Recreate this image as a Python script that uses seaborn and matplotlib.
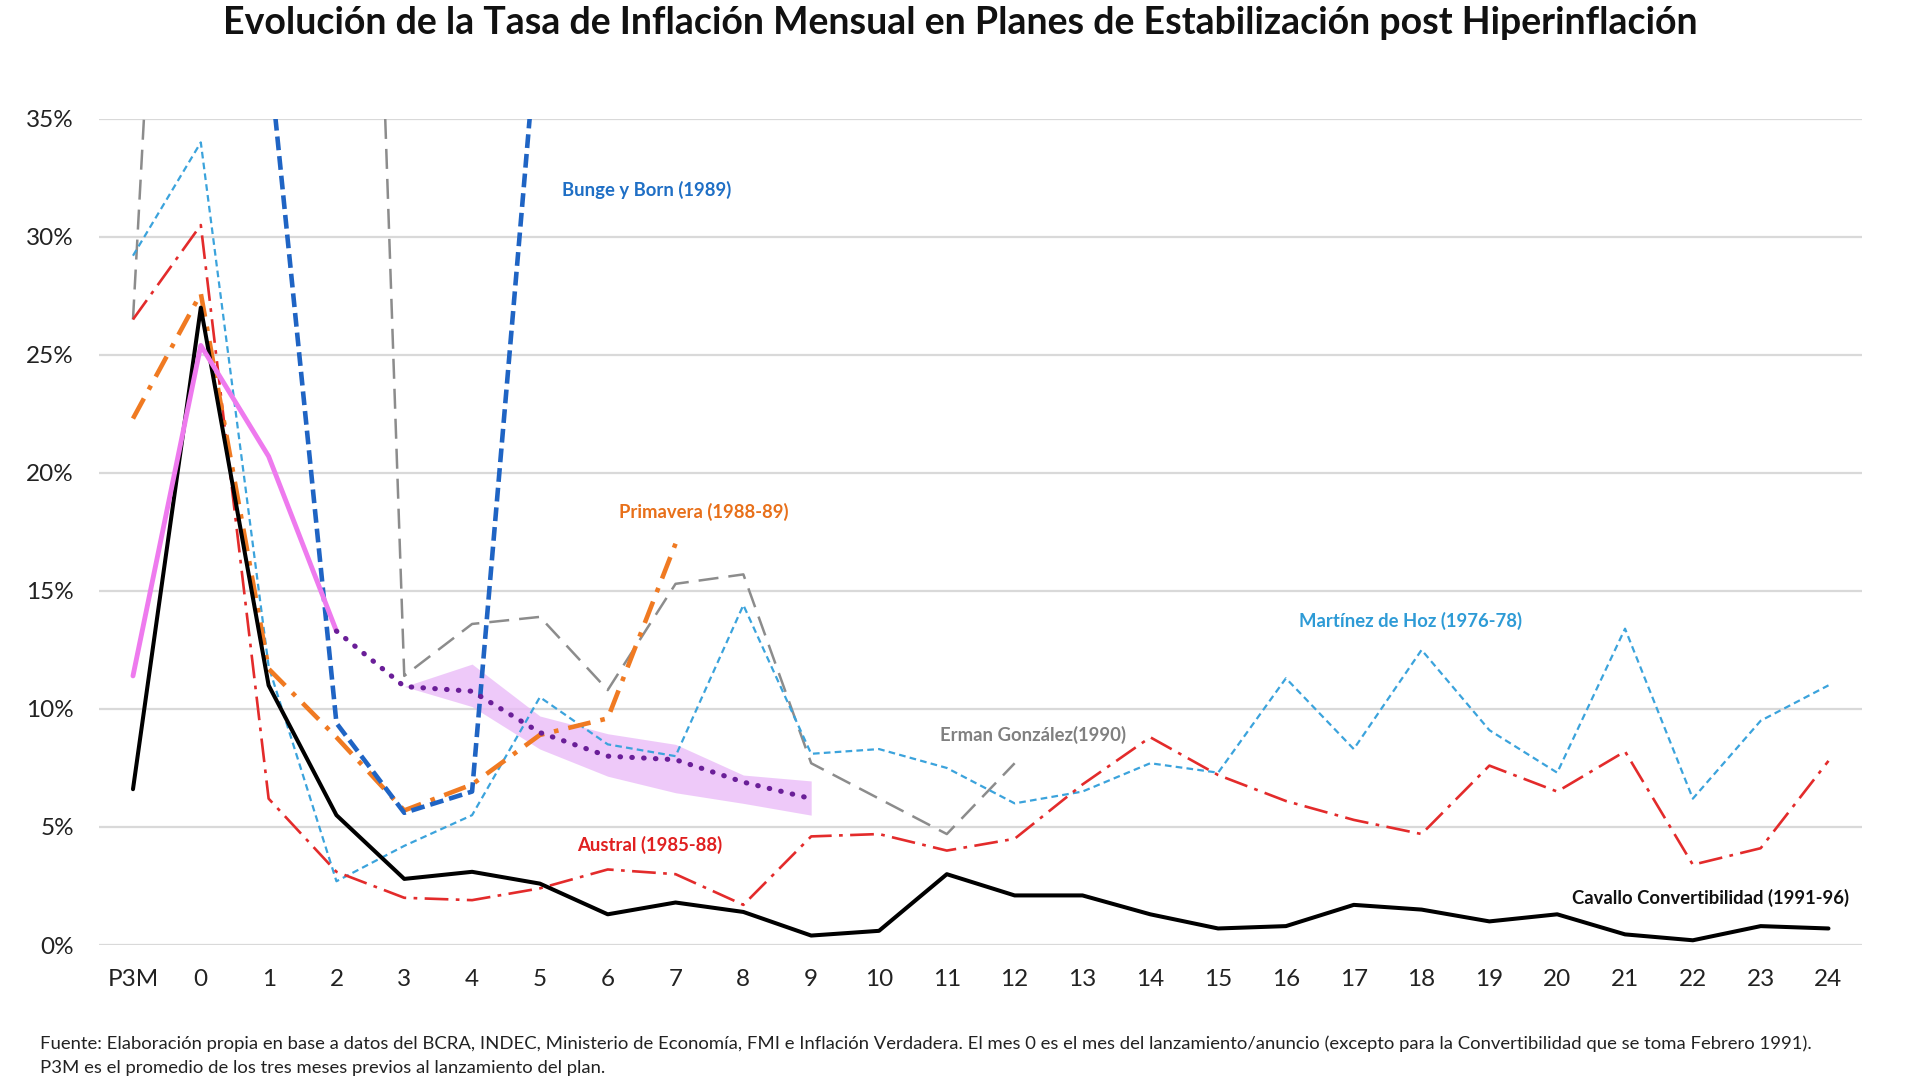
import matplotlib

matplotlib.use("Agg")
import matplotlib.pyplot as plt
import numpy as np
import pandas as pd
import seaborn as sns

NA = np.nan

# eje x: P3M = promedio de los 3 meses previos, luego meses 0..24
months = ["P3M"] + [str(i) for i in range(25)]

# tasas mensuales (%)
cavallo = [6.6, 27.0, 11.0, 5.5, 2.8, 3.1, 2.6, 1.3, 1.8, 1.4, 0.4, 0.6, 3.0,
           2.1, 2.1, 1.3, 0.7, 0.8, 1.7, 1.5, 1.0, 1.3, 0.45, 0.2, 0.8, 0.7]
austral = [26.5, 30.5, 6.2, 3.1, 2.0, 1.9, 2.4, 3.2, 3.0, 1.7, 4.6, 4.7, 4.0,
           4.5, 6.8, 8.8, 7.2, 6.1, 5.3, 4.7, 7.6, 6.5, 8.2, 3.4, 4.1, 7.8]
martinez_de_hoz = [29.2, 34.0, 11.8, 2.7, 4.2, 5.5, 10.5, 8.5, 8.0, 14.4, 8.1, 8.3, 7.5,
                   6.0, 6.5, 7.7, 7.3, 11.3, 8.3, 12.5, 9.1, 7.3, 13.4, 6.2, 9.5, 11.0]
erman_gonzalez = [26.5, 79.2, 61.6, 95.5, 11.4, 13.6, 13.9, 10.8, 15.3, 15.7, 7.7, 6.2, 4.7,
                  7.7] + [NA] * 12
bunge_born = [75.5, 196.6, 37.9, 9.4, 5.6, 6.5, 40.1] + [NA] * 19
primavera = [22.3, 27.6, 11.7, 8.8, 5.7, 6.8, 8.9, 9.6, 17.0] + [NA] * 17

# promedio (linea violeta) y su proyeccion punteada con banda
promedio = [11.4, 25.4, 20.7, 13.3] + [NA] * 22
proyeccion = [NA] * 3 + [13.3, 10.95, 10.75, 9.0, 8.0, 7.85, 6.9, 6.2] + [NA] * 15
band_months = [3, 4, 5, 6, 7, 8, 9]
band_upper = [10.95, 11.9, 9.7, 8.95, 8.5, 7.2, 6.95]
band_lower = [10.95, 10.1, 8.3, 7.15, 6.45, 6.0, 5.5]

TITLE = "Evolución de la Tasa de Inflación Mensual en Planes de Estabilización post Hiperinflación"
NOTE_1 = ("Fuente: Elaboración propia en base a datos del BCRA, INDEC, Ministerio de Economía, FMI e "
          "Inflación Verdadera. El mes 0 es el mes del lanzamiento/anuncio (excepto para la "
          "Convertibilidad que se toma Febrero 1991).")
NOTE_2 = "P3M es el promedio de los tres meses previos al lanzamiento del plan."

sns.set_theme(style="white")
plt.rcParams["font.family"] = ["Lato", "DejaVu Sans"]

x = np.arange(len(months))
df = pd.DataFrame({
    "x": x,
    "cavallo": cavallo,
    "austral": austral,
    "mdh": martinez_de_hoz,
    "erman": erman_gonzalez,
    "bunge": bunge_born,
    "primavera": primavera,
    "promedio": promedio,
    "proyeccion": proyeccion,
})

fig = plt.figure(figsize=(19.2, 10.8), dpi=100)
ax = fig.add_axes([0.0516, 0.125, 0.9184, 0.765])

# banda sombreada
bx = [m + 1 for m in band_months]
ax.fill_between(bx, band_lower, band_upper, color="#E9B8F7", alpha=0.75, lw=0, zorder=1)

styles = [
    ("erman", "#8C8C8C", 1.8, (0, (8, 4)), "butt"),
    ("mdh", "#3BA3DC", 1.6, (0, (3, 1.9)), "butt"),
    ("austral", "#E32B2B", 1.9, (0, (9, 2.8, 1.4, 2.8)), "butt"),
    ("primavera", "#F07A22", 3.3, (0, (5, 2.2, 1, 2.2)), "butt"),
    ("bunge", "#1F64C4", 3.3, (0, (3, 1.3)), "butt"),
    ("cavallo", "#000000", 2.9, "-", "round"),
    ("promedio", "#EE7AEE", 3.5, "-", "round"),
    ("proyeccion", "#6A1E98", 3.7, (0, (0.1, 2.2)), "round"),
]
for i, (col, color, lw, ls, cap) in enumerate(styles):
    sub = df[["x", col]].dropna()
    sns.lineplot(data=sub, x="x", y=col, ax=ax, color=color, linewidth=lw,
                 linestyle=ls, dash_capstyle=cap, solid_capstyle=cap, zorder=3 + i)

# etiquetas de cada plan
labels = [
    (6.33, 32.0, "Bunge y Born (1989)", "#1F6FC5"),
    (7.16, 18.35, "Primavera (1988-89)", "#E8701A"),
    (17.19, 13.74, "Martínez de Hoz (1976-78)", "#2E9BD6"),
    (11.9, 8.9, "Erman González(1990)", "#808080"),
    (6.55, 4.25, "Austral (1985-88)", "#E02020"),
    (21.22, 2.0, "Cavallo Convertibilidad (1991-96)", "#111111"),
]
for lx, ly, txt, c in labels:
    ax.text(lx, ly, txt, color=c, fontsize=13.3, fontweight="bold", ha="left", va="center", zorder=20)

ax.set_xlim(-0.5, 25.5)
ax.set_ylim(0, 35)
ax.set_xticks(x)
ax.set_xticklabels(months)
ax.set_yticks(np.arange(0, 36, 5))
ax.set_yticklabels([f"{v}%" for v in range(0, 36, 5)])
ax.set_xlabel("")
ax.set_ylabel("")
ax.grid(axis="y", color="#D9D9D9", linewidth=1.6)
ax.grid(axis="x", visible=False)
ax.set_axisbelow(True)
sns.despine(ax=ax, left=True, bottom=True)
ax.tick_params(axis="both", length=0, labelsize=17.5, colors="#222222")
ax.tick_params(axis="y", pad=18)
ax.tick_params(axis="x", pad=17)

fig.text(0.5, 0.979, TITLE, ha="center", va="center", fontsize=27, fontweight="bold", color="#111111")
fig.text(0.021, 0.034, NOTE_1, ha="left", va="center", fontsize=13.3, color="#222222")
fig.text(0.021, 0.011, NOTE_2, ha="left", va="center", fontsize=13.3, color="#222222")

fig.savefig("out.png", dpi=100)
plt.close(fig)
